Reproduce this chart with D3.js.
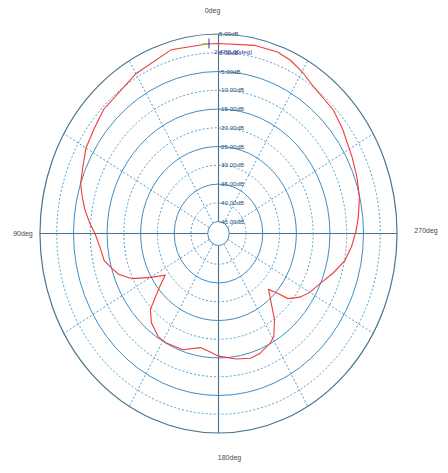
<!DOCTYPE html>
<html>
<head>
<meta charset="utf-8">
<script src="https://cdn.jsdelivr.net/npm/d3@7/dist/d3.min.js"></script>
<style>
html,body{margin:0;padding:0;background:#fff;}
svg{display:block;}
text{font-family:"Liberation Sans",Arial,sans-serif;}
</style>
</head>
<body>
<svg id="chart" width="448" height="473"></svg>
<script>
// ---- data ----
const angles = [0,4,16,30,46,53,60,66,72,76,81,86,90,96,102,106,110,115,120,125,129,132,135,140,147,152,161,170,175,180,189,196,201,208,211,216,220,225,228,230,235,240,246,253,259,265,271,276,283,290,297,307,314,319,324,330,335,340,348,360];
const gainDb = [2.47,2.45,2.8,1.0,-0.6,-1.8,-2.6,-4.0,-5.0,-6.3,-7.9,-9.8,-11.4,-12.7,-13.4,-15.0,-16.5,-19.7,-24.8,-28.8,-25.7,-22.9,-19.5,-17.1,-15.3,-15.1,-15.4,-17.3,-16.6,-15.5,-14.3,-13.6,-13.9,-15.2,-16.2,-19.8,-23.7,-27.1,-24.3,-21.2,-18.6,-16.8,-15.2,-12.4,-9.9,-8.4,-7.2,-6.3,-5.1,-4.3,-3.5,-1.9,-0.7,-0.5,0.1,1.6,2.7,3.3,3.1,2.47];
const ringValues = [5,0,-5,-10,-15,-20,-25,-30,-35,-40,-45];
const ringLabels = ["5.00dB","0.00dB","-5.00dB","-10.00dB","-15.00dB","-20.00dB","-25.00dB","-30.00dB","-35.00dB","-40.00dB","-45.00dB"];
const spokeAngles = [0,30,60,90,120,150,180,210,240,270,300,330];
const axisLabelAngles = [0,90,180,270];
const axisLabels = ["0deg","90deg","180deg","270deg"];
const markerAngle = 0, markerValue = 2.47;
const markerText = "2.47[0.00deg]";

// ---- layout ----
const svg = d3.select("#chart");
const cx = 218.5, cy = 233.5, sx = 0.895;
const r = d3.scaleLinear().domain([-45,5]).range([12,199.5]);
const rad = a => a*Math.PI/180;
const px = (a,v) => cx - r(v)*Math.sin(rad(a))*sx;
const py = (a,v) => cy - r(v)*Math.cos(rad(a));

const cSolid = "#3f8dc2", cDot = "#4f9dd0", cAxis = "#45708e", cOuter = "#4a7590";

// spokes (dotted) and axes (solid)
svg.append("g").selectAll("line").data(spokeAngles).join("line")
  .attr("x1", a => px(a,-45)).attr("y1", a => py(a,-45))
  .attr("x2", a => px(a,5)).attr("y2", a => py(a,5))
  .attr("stroke", a => a % 90 === 0 ? cAxis : cDot)
  .attr("stroke-width", a => a % 90 === 0 ? 1.1 : 1)
  .attr("stroke-dasharray", a => a % 90 === 0 ? null : "2,2");

// rings
svg.append("g").selectAll("ellipse").data(ringValues).join("ellipse")
  .attr("cx", cx).attr("cy", cy)
  .attr("rx", v => r(v)*sx).attr("ry", v => r(v))
  .attr("fill", v => v === -45 ? "#fff" : "none")
  .attr("stroke", (v,i) => i === 0 ? cOuter : (i % 2 === 0 ? cSolid : cDot))
  .attr("stroke-width", (v,i) => i === 0 ? 1.2 : 1)
  .attr("stroke-dasharray", (v,i) => i % 2 === 1 ? "2,2" : null);

// ring labels
svg.append("g").selectAll("text").data(ringValues).join("text")
  .attr("x", cx + 0.5).attr("y", v => cy - r(v) + 2.2)
  .attr("font-size", 6.2).attr("fill", "#2c4f73")
  .text((v,i) => ringLabels[i]);

// angle labels
const labelPos = {0:[-6,-24],90:[-17,0],180:[11,24],270:[29,-3]};
svg.append("g").selectAll("text").data(axisLabelAngles).join("text")
  .attr("x", a => px(a,5) + labelPos[a][0] * (a===90||a===270 ? 1 : 1))
  .attr("y", a => py(a,5) + labelPos[a][1] + 2.5)
  .attr("text-anchor","middle")
  .attr("font-size", 7).attr("fill", "#4a4a4a")
  .text((a,i) => axisLabels[i]);

// pattern trace
const pts = angles.map((a,i) => [a, gainDb[i]]);
svg.append("path").datum(pts)
  .attr("d", d3.line().x(d => px(d[0],d[1])).y(d => py(d[0],d[1])))
  .attr("fill","none").attr("stroke","#ee3b3b").attr("stroke-width",1.1);

// marker
const mx = px(markerAngle, markerValue), my = py(markerAngle, markerValue);
svg.append("line").attr("x1", mx-16).attr("x2", mx-9).attr("y1", my+0.5).attr("y2", my+0.5)
  .attr("stroke","#7ccc3c").attr("stroke-width",1.5);
svg.append("line").attr("x1", mx-9.5).attr("x2", mx-9.5).attr("y1", my-5).attr("y2", my+5)
  .attr("stroke","#3535a5").attr("stroke-width",1);
svg.append("text").attr("x", mx-4.5).attr("y", my+11)
  .attr("font-size", 6.2).attr("fill", "#3a3aa8").text(markerText);
</script>
</body>
</html>
